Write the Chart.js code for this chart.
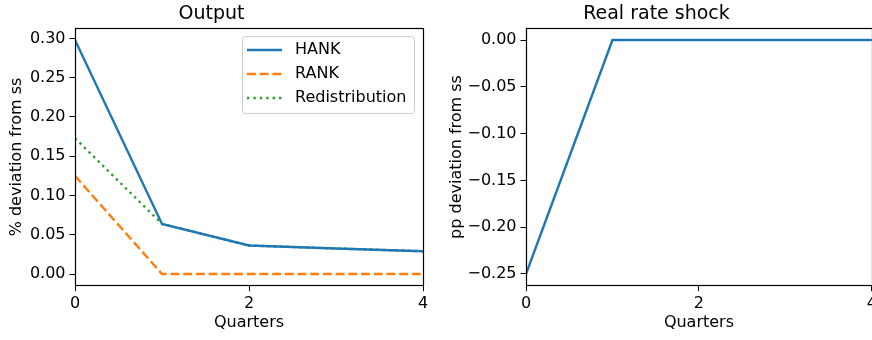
<!DOCTYPE html>
<html>
<head>
<meta charset="utf-8">
<script src="https://cdn.jsdelivr.net/npm/chart.js@4.4.1/dist/chart.umd.min.js"></script>
<style>
  html, body { margin: 0; padding: 0; background: #fff; overflow: hidden; width: 872px; height: 340px; }
  .box { position: absolute; top: 0; height: 340px; }
  #left { left: 0; width: 440px; }
  #right { left: 440px; width: 440px; }
</style>
</head>
<body>
<div class="box" id="left"><canvas id="outputChart"></canvas></div>
<div class="box" id="right"><canvas id="rateChart"></canvas></div>
<script>
// data
const quarters = [0, 1, 2, 3, 4];
const hank = [0.298, 0.0638, 0.0363, 0.0325, 0.029];
const rank = [0.125, 0, 0, 0, 0];
const redistribution = [0.173, 0.0638, 0.0363, 0.0325, 0.029];
const realRate = [-0.25, 0, 0, 0, 0];

const outputTicks = [0, 0.05, 0.10, 0.15, 0.20, 0.25, 0.30];
const rateTicks = [0, -0.05, -0.10, -0.15, -0.20, -0.25];
const xTicks = [0, 2, 4];

const FONT = 'DejaVu Sans';
const blue = '#1f77b4', orange = '#ff7f0e', green = '#2ca02c';
const LW = 2.4;

function pts(ys) {
    return quarters.map((q, i) => ({ x: q, y: ys[i] }));
}

function fmt(v) {
    const s = Math.abs(v).toFixed(2);
    return v < -1e-9 ? '\u2212' + s : s;
}

// full box around the plot area, like matplotlib spines
const frame = {
    id: 'frame',
    afterDatasetsDraw(chart) {
        const a = chart.chartArea;
        const c = chart.ctx;
        c.save();
        c.strokeStyle = '#000';
        c.lineWidth = 1.2;
        c.strokeRect(Math.round(a.left) + 0.5, Math.round(a.top) + 0.5,
            Math.round(a.right - a.left), Math.round(a.bottom - a.top));
        c.restore();
    }
};

// legend box in the upper right corner
const boxLegend = {
    id: 'boxLegend',
    afterDraw(chart, args, opts) {
        if (!opts.show) return;
        const c = chart.ctx;
        const a = chart.chartArea;
        const x0 = a.left + 167, y0 = 36, w = 172, h = 77;
        c.save();
        c.fillStyle = 'rgba(255,255,255,0.8)';
        c.strokeStyle = '#cccccc';
        c.lineWidth = 1;
        c.beginPath();
        c.roundRect(x0 + 0.5, y0 + 0.5, w, h, 3);
        c.fill();
        c.stroke();
        chart.data.datasets.forEach((ds, i) => {
            const y = 50 + i * 24;
            c.strokeStyle = ds.borderColor;
            c.lineWidth = ds.borderWidth;
            c.setLineDash(ds.borderDash || []);
            c.beginPath();
            c.moveTo(x0 + 5, y);
            c.lineTo(x0 + 40, y);
            c.stroke();
            c.setLineDash([]);
            c.fillStyle = '#000';
            c.font = '16px "' + FONT + '"';
            c.textBaseline = 'middle';
            c.fillText(ds.label, x0 + 53, y);
        });
        c.restore();
    }
};

function makeChart(id, datasets, yMin, yMax, yTicks, yTitle, title, yWidth, padRight, legend) {
    return new Chart(document.getElementById(id), {
        type: 'line',
        data: { datasets: datasets },
        options: {
            responsive: true,
            maintainAspectRatio: false,
            animation: false,
            layout: { padding: { left: 0, right: padRight, top: 0, bottom: 0 } },
            elements: { point: { radius: 0 }, line: { tension: 0 } },
            plugins: {
                legend: { display: false },
                tooltip: { enabled: false },
                title: {
                    display: true,
                    text: title,
                    color: '#000',
                    font: { family: FONT, size: 19, weight: 'normal' },
                    padding: { top: 3, bottom: 2.5 }
                },
                boxLegend: { show: legend }
            },
            scales: {
                x: {
                    type: 'linear',
                    min: 0,
                    max: 4,
                    afterBuildTicks(s) { s.ticks = xTicks.map(v => ({ value: v })); },
                    afterFit(s) { s.height = 54.3; },
                    grid: { drawOnChartArea: false, tickLength: 5.5, tickColor: '#000', color: '#000' },
                    border: { color: '#000' },
                    ticks: { color: '#000', font: { family: FONT, size: 16 }, padding: 3, maxRotation: 0 },
                    title: { display: true, text: 'Quarters', color: '#000', font: { family: FONT, size: 16 }, padding: { top: 0, bottom: 8 } }
                },
                y: {
                    min: yMin,
                    max: yMax,
                    afterBuildTicks(s) { s.ticks = yTicks.map(v => ({ value: v })); },
                    afterFit(s) { s.width = yWidth; },
                    grid: { drawOnChartArea: false, tickLength: 5.5, tickColor: '#000', color: '#000' },
                    border: { color: '#000' },
                    ticks: { color: '#000', font: { family: FONT, size: 16 }, padding: 4, callback: v => fmt(v) },
                    title: { display: true, text: yTitle, color: '#000', font: { family: FONT, size: 16 }, padding: { top: 7, bottom: 0 } }
                }
            }
        },
        plugins: [frame, boxLegend]
    });
}

makeChart('outputChart', [
    { label: 'HANK', data: pts(hank), borderColor: blue, borderWidth: LW, fill: false },
    { label: 'RANK', data: pts(rank), borderColor: orange, borderWidth: LW, borderDash: [8.9, 3.8], fill: false },
    { label: 'Redistribution', data: pts(redistribution), borderColor: green, borderWidth: LW, borderDash: [2.4, 4], fill: false }
], -0.0149, 0.3129, outputTicks, '% deviation from ss', 'Output', 75, 17, true);

makeChart('rateChart', [
    { label: 'Real rate', data: pts(realRate), borderColor: blue, borderWidth: LW, fill: false }
], -0.2625, 0.0125, rateTicks, 'pp deviation from ss', 'Real rate shock', 86, 7, false);
</script>
</body>
</html>
